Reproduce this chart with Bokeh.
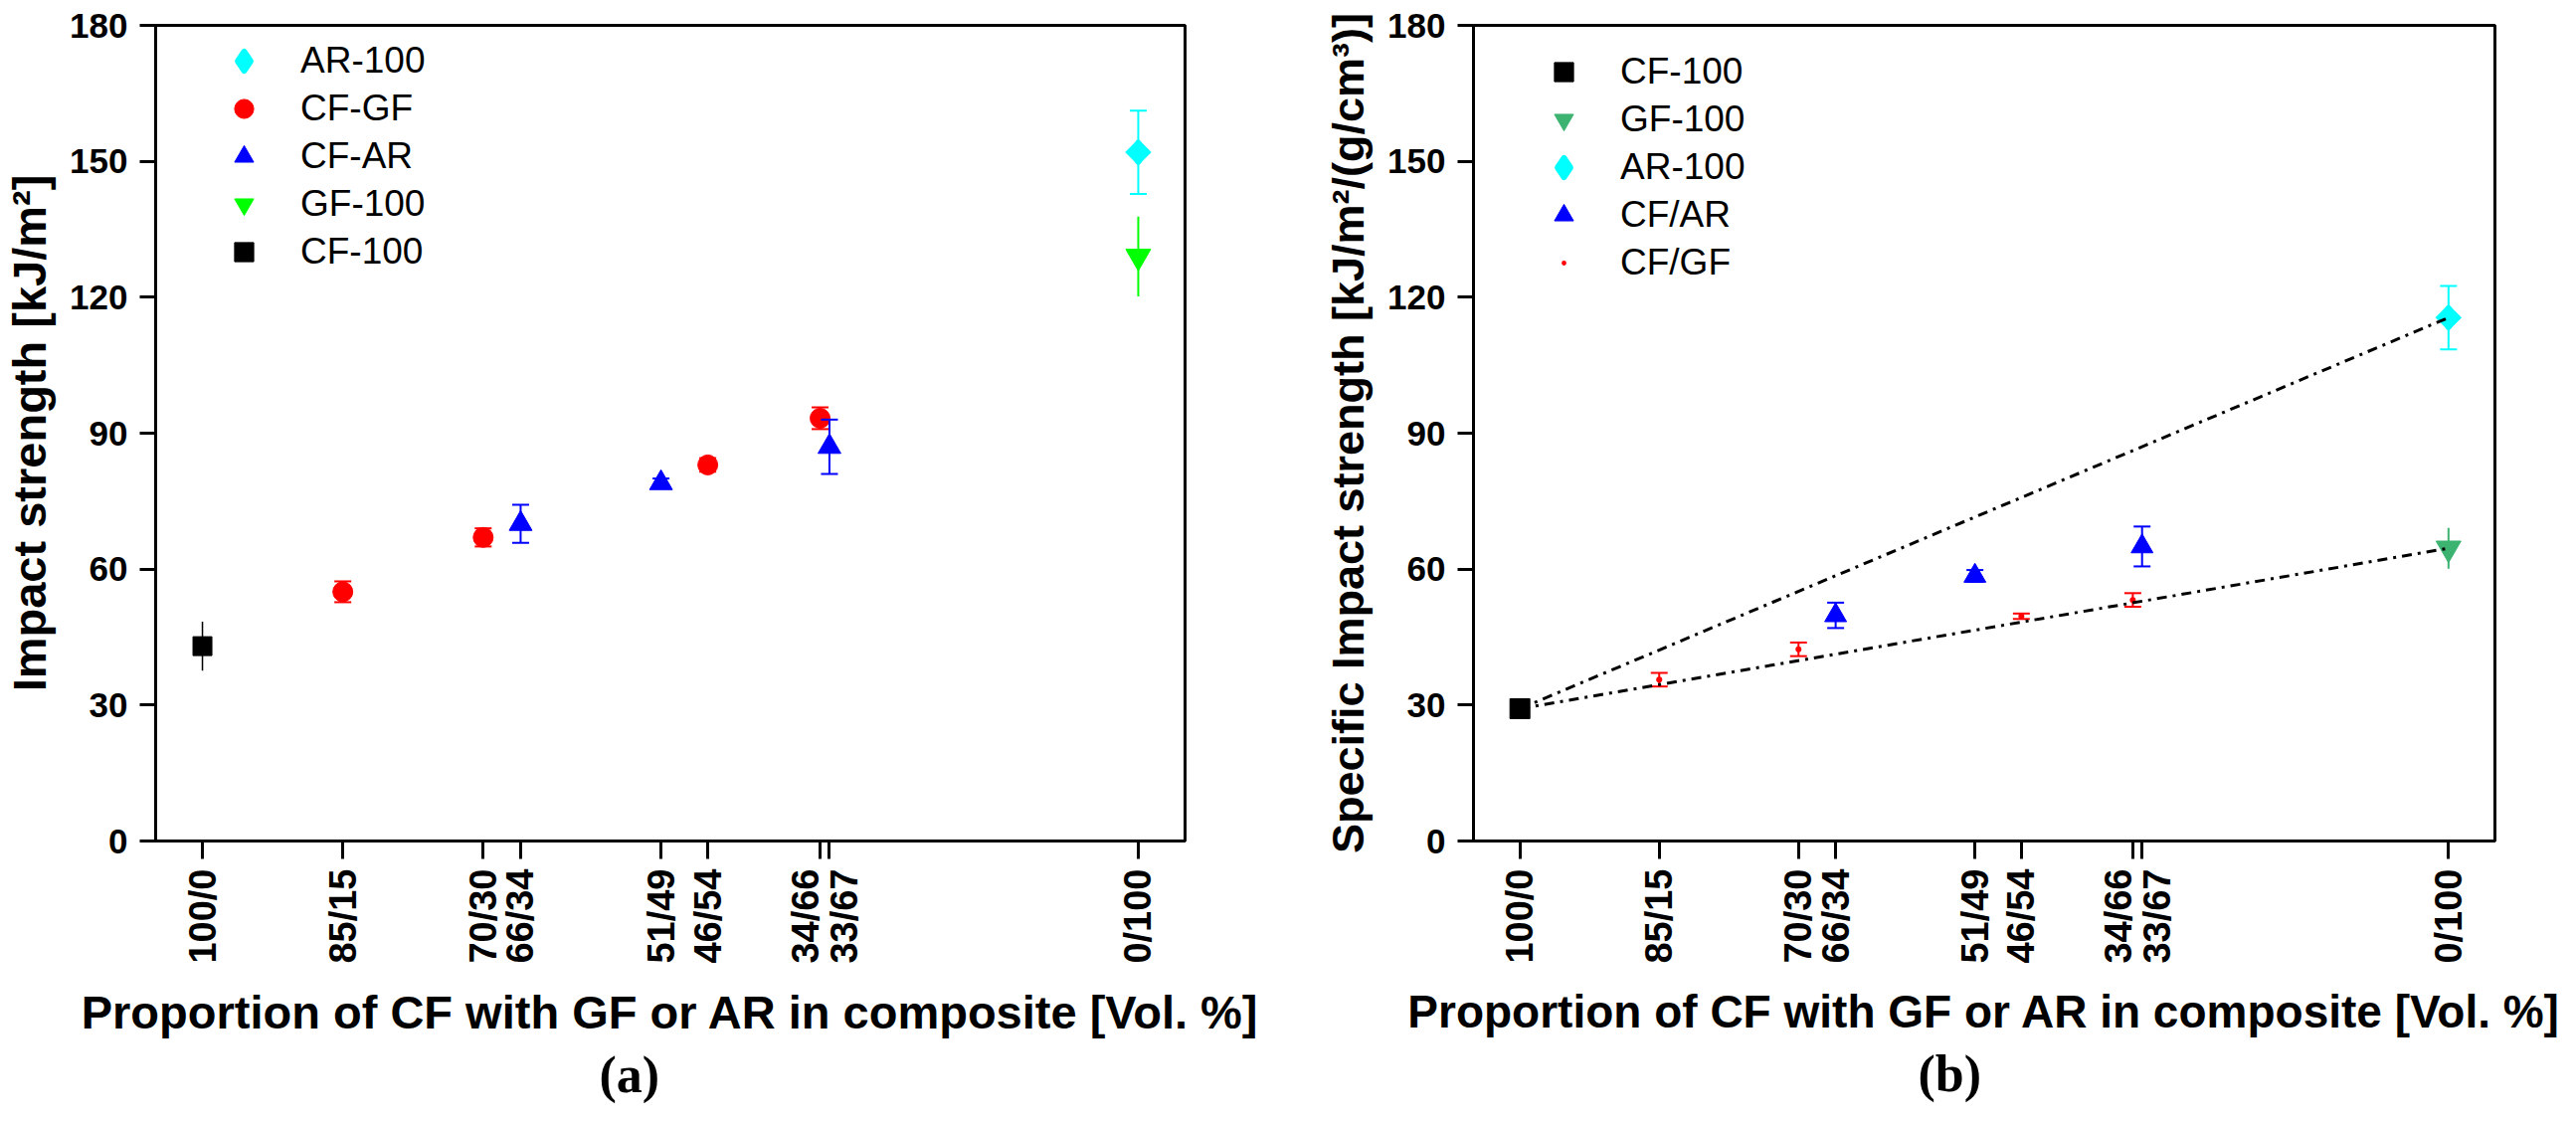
import math
from bokeh.plotting import figure
from bokeh.layouts import row
from bokeh.models import Range1d, FixedTicker, Legend, LegendItem, LinearAxis, Title
from bokeh.embed import file_html
from bokeh.resources import INLINE

# ---------------- data ----------------
# x = volume fraction of GF or AR in the hybrid (%), label = CF/(GF or AR)
tick_pos = [0, 15, 30, 34, 49, 54, 66, 67, 100]
tick_labels = ["100/0", "85/15", "70/30", "66/34", "51/49", "46/54", "34/66", "33/67", "0/100"]
y_ticks = [0, 30, 60, 90, 120, 150, 180]

# (a) Impact strength [kJ/m2]
a_cf100_x = [0];   a_cf100_y = [43.0];  a_cf100_e = [5.4]
a_cfgf_x = [15, 30, 54, 66]; a_cfgf_y = [55.0, 67.0, 83.0, 93.3]; a_cfgf_e = [2.3, 2.0, 1.5, 2.4]
a_cfar_x = [34, 49, 67];     a_cfar_y = [70.0, 79.0, 87.0];       a_cfar_e = [4.2, 1.0, 6.0]
a_gf100_x = [100]; a_gf100_y = [129.0]; a_gf100_e = [8.8]
a_ar100_x = [100]; a_ar100_y = [152.0]; a_ar100_e = [9.2]

# (b) Specific impact strength [kJ/m2/(g/cm3)]
b_cf100_x = [0];   b_cf100_y = [29.2];  b_cf100_e = [0.8]
b_cfgf_x = [15, 30, 54, 66]; b_cfgf_y = [35.6, 42.3, 49.6, 53.2]; b_cfgf_e = [1.5, 1.5, 0.6, 1.5]
b_cfar_x = [34, 49, 67];     b_cfar_y = [49.8, 58.5, 65.0];       b_cfar_e = [2.8, 1.3, 4.4]
b_gf100_x = [100]; b_gf100_y = [64.6];  b_gf100_e = [4.5]
b_ar100_x = [100]; b_ar100_y = [115.5]; b_ar100_e = [7.0]

SANS = "Liberation Sans"
SERIF = "Liberation Serif"

# label anchor positions (the two crowded 34/66 - 33/67 labels are spread apart)
label_pos = [0, 15, 30, 34, 49, 54, 64.5, 68.6, 100]


def make_panel(width, height, mb_left, mb_right, mb_top, mb_bottom, ytitle, xsize, ysize):
    p = figure(width=width, height=height, output_backend="svg", toolbar_location=None,
               x_range=Range1d(-5, 105), y_range=Range1d(0, 180),
               min_border_left=mb_left, min_border_right=mb_right,
               min_border_top=mb_top, min_border_bottom=mb_bottom)
    p.background_fill_color = "white"
    p.border_fill_color = "white"
    p.outline_line_color = "black"
    p.outline_line_width = 3
    p.grid.visible = False

    # axis 1: tick marks at the real compositions, no labels
    ax1 = p.xaxis[0]
    ax1.ticker = FixedTicker(ticks=tick_pos)
    ax1.major_label_overrides = {t: "" for t in tick_pos}
    ax1.major_label_standoff = 0
    ax1.major_tick_out = 18
    ax1.major_tick_in = 0
    ax1.minor_tick_line_color = None
    ax1.axis_line_width = 3
    ax1.axis_line_color = "black"
    ax1.major_tick_line_width = 3
    ax1.major_tick_line_color = "black"

    # axis 2: only the rotated labels + title
    ax2 = LinearAxis(ticker=FixedTicker(ticks=label_pos),
                     major_label_overrides={lp: l for lp, l in zip(label_pos, tick_labels)},
                     axis_line_color=None, major_tick_line_color=None,
                     minor_tick_line_color=None, major_tick_out=0, major_tick_in=0,
                     minor_tick_out=0, minor_tick_in=0)
    ax2.major_label_orientation = math.pi / 2
    ax2.major_label_standoff = 10
    ax2.major_label_text_font = SANS
    ax2.major_label_text_font_size = "38px"
    ax2.major_label_text_font_style = "bold"
    ax2.major_label_text_color = "black"
    ax2.axis_label = "Proportion of CF with GF or AR in composite [Vol. %]"
    ax2.axis_label_standoff = 19
    ax2.axis_label_text_font = SANS
    ax2.axis_label_text_font_size = xsize
    ax2.axis_label_text_font_style = "bold"
    ax2.axis_label_text_color = "black"
    p.add_layout(ax2, "below")

    ay = p.yaxis[0]
    ay.ticker = FixedTicker(ticks=y_ticks)
    ay.major_tick_out = 16
    ay.major_tick_in = 0
    ay.minor_tick_line_color = None
    ay.major_label_standoff = 12
    ay.major_label_text_font = SANS
    ay.major_label_text_font_size = "35px"
    ay.major_label_text_font_style = "bold"
    ay.major_label_text_color = "black"
    ay.axis_line_width = 3
    ay.axis_line_color = "black"
    ay.major_tick_line_width = 3
    ay.major_tick_line_color = "black"
    ay.axis_label = ytitle
    ay.axis_label_standoff = 11
    ay.axis_label_text_font = SANS
    ay.axis_label_text_font_size = ysize
    ay.axis_label_text_font_style = "bold"
    ay.axis_label_text_color = "black"
    return p


def errbar(p, x, y, e, color, lw, caps):
    lo = [yy - ee for yy, ee in zip(y, e)]
    hi = [yy + ee for yy, ee in zip(y, e)]
    p.segment(x0=x, y0=lo, x1=x, y1=hi, line_color=color, line_width=lw)
    if caps:
        p.scatter(x + x, lo + hi, marker="dash", size=17, line_color=color, line_width=lw)


def series(p, x, y, e, color, marker, size, caps, lw=2):
    errbar(p, x, y, e, color, lw, caps)
    if marker == "dot":
        return p.scatter(x, y, marker="dot", size=size, line_color=color, fill_color=color)
    if marker == "rdiamond":
        # legend proxy (legend markers are never rotated), hidden under the rotated square
        proxy = p.scatter(x, y, marker="diamond", size=19, fill_color=color, line_color=color,
                          line_width=6, line_join="round")
        p.scatter(x, y, marker="square", size=18, angle=math.pi / 4,
                  fill_color=color, line_color=color, line_width=1)
        return proxy
    return p.scatter(x, y, marker=marker, size=size, fill_color=color, line_color=color,
                     line_width=1)


def add_legend(p, items, vx, vy):
    leg = Legend(items=[LegendItem(label=l, renderers=[r]) for l, r in items],
                 location=(vx, vy), border_line_color=None, background_fill_alpha=0,
                 label_text_font=SANS, label_text_font_size="37px", label_text_color="black",
                 glyph_width=50, glyph_height=48, label_height=48, spacing=0,
                 padding=0, margin=0, label_standoff=32)
    p.add_layout(leg)


def add_caption(p, text, offset):
    p.add_layout(Title(text=text, align="left", offset=offset, standoff=6,
                       text_font=SERIF, text_font_size="52px", text_font_style="bold",
                       text_color="black"), "below")


# ---------------- panel (a) ----------------
pa = make_panel(1300, 1112, 153, 109, 13, 267, "Impact strength [kJ/m\u00b2]", "47px", "47px")
r_cf = series(pa, a_cf100_x, a_cf100_y, a_cf100_e, "black", "square", 19, False, lw=1.5)
r_gf = series(pa, a_gf100_x, a_gf100_y, a_gf100_e, "#00FF00", "inverted_triangle", 25, False)
r_ar = series(pa, a_ar100_x, a_ar100_y, a_ar100_e, "#00FFFF", "rdiamond", 18, True)
r_cg = series(pa, a_cfgf_x, a_cfgf_y, a_cfgf_e, "#FF0000", "circle", 20, True)
r_ca = series(pa, a_cfar_x, a_cfar_y, a_cfar_e, "#0000FF", "triangle", 23, True)
add_legend(pa, [("AR-100", r_ar), ("CF-GF", r_cg), ("CF-AR", r_ca),
                ("GF-100", r_gf), ("CF-100", r_cf)], 64, 568)
add_caption(pa, "(a)", 446)

# ---------------- panel (b) ----------------
pb = make_panel(1274, 1112, 181, 66, 25, 264,
                "Specific Impact strength [kJ/m\u00b2/(g/cm\u00b3)]", "46px", "45px")
s_cf = series(pb, b_cf100_x, b_cf100_y, b_cf100_e, "black", "square", 20, False, lw=1.5)
s_gf = series(pb, b_gf100_x, b_gf100_y, b_gf100_e, "#3CB371", "inverted_triangle", 25, False)
s_ar = series(pb, b_ar100_x, b_ar100_y, b_ar100_e, "#00FFFF", "rdiamond", 18, True)
s_ca = series(pb, b_cfar_x, b_cfar_y, b_cfar_e, "#0000FF", "triangle", 22, True)
s_cg = series(pb, b_cfgf_x, b_cfgf_y, b_cfgf_e, "#FF0000", "dot", 24, True)
# rule-of-mixtures lines from CF-100 to AR-100 and to GF-100
pb.line([b_cf100_x[0], b_ar100_x[0]], [b_cf100_y[0], b_ar100_y[0]],
        line_color="black", line_width=3, line_dash="10 6 3 6")
pb.line([b_cf100_x[0], b_gf100_x[0]], [b_cf100_y[0], b_gf100_y[0]],
        line_color="black", line_width=3, line_dash="10 6 3 6")
add_legend(pb, [("CF-100", s_cf), ("GF-100", s_gf), ("AR-100", s_ar),
                ("CF/AR", s_ca), ("CF/GF", s_cg)], 66, 557)
add_caption(pb, "(b)", 447)

layout = row(pa, pb)
open("out.html", "w").write(file_html(layout, INLINE))
